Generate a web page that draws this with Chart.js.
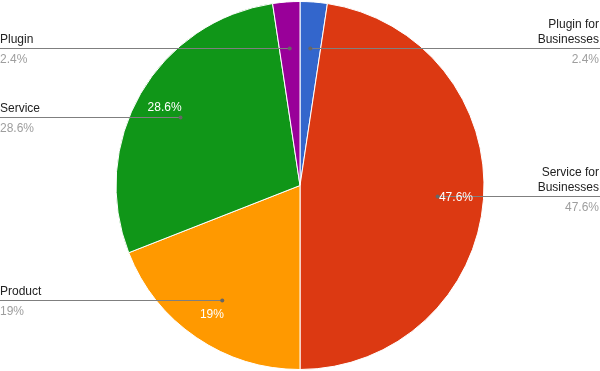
<!DOCTYPE html>
<html>
<head>
<meta charset="utf-8">
<script src="https://cdn.jsdelivr.net/npm/chart.js@4.4.0/dist/chart.umd.min.js"></script>
<style>
  html, body { margin: 0; padding: 0; background: #fff; }
  #pie { display: block; }
</style>
</head>
<body>
<canvas id="pie" width="600" height="371"></canvas>
<script>
// data (clockwise from 12 o'clock)
const categories = ["Plugin for Businesses", "Service for Businesses", "Product", "Service", "Plugin"];
const counts = [1, 20, 8, 12, 1];
const sliceColors = ["#3366cc", "#dc3912", "#ff9900", "#109618", "#990099"];

const total = counts.reduce(function (a, b) { return a + b; }, 0);

function pctText(v) {
  var s = (v / total * 100).toFixed(1);
  if (s.slice(-2) == ".0") s = s.slice(0, -2);
  return s + "%";
}

// crude word wrap for the side labels
function wrapLabel(ctx, text, maxW) {
  var words = text.split(" ");
  var lines = [];
  var cur = "";
  words.forEach(function (w) {
    var test = cur ? cur + " " + w : w;
    if (cur && ctx.measureText(test).width > maxW) {
      lines.push(cur);
      cur = w;
    } else {
      cur = test;
    }
  });
  if (cur) lines.push(cur);
  return lines;
}

const pieLabels = {
  id: "pieLabels",
  afterDatasetsDraw: function (chart) {
    var ctx = chart.ctx;
    var meta = chart.getDatasetMeta(0);
    ctx.save();
    ctx.font = "12px Arial, 'Liberation Sans', sans-serif";

    meta.data.forEach(function (arc, i) {
      var p = arc.getProps(["x", "y", "startAngle", "endAngle", "outerRadius"], true);
      var mid = (p.startAngle + p.endAngle) / 2;
      var cos = Math.cos(mid), sin = Math.sin(mid);
      var right = cos >= 0;

      // leader line + dot
      var dx = p.x + cos * p.outerRadius * 0.75;
      var dy = Math.round(p.y + sin * p.outerRadius * 0.75) + 0.5;
      ctx.strokeStyle = "#7f7f7f";
      ctx.lineWidth = 1;
      ctx.beginPath();
      ctx.moveTo(dx, dy);
      ctx.lineTo(right ? chart.width : 0, dy);
      ctx.stroke();
      ctx.fillStyle = "#666666";
      ctx.beginPath();
      ctx.arc(dx, dy, 2, 0, Math.PI * 2);
      ctx.fill();

      // side label
      var tx = right ? chart.width - 1 : 0;
      ctx.textAlign = right ? "right" : "left";
      ctx.textBaseline = "alphabetic";
      var lines = wrapLabel(ctx, categories[i], 100);
      ctx.fillStyle = "#222222";
      for (var j = 0; j < lines.length; j++) {
        ctx.fillText(lines[j], tx, dy - 6 - (lines.length - 1 - j) * 15);
      }
      ctx.fillStyle = "#9e9e9e";
      ctx.fillText(pctText(counts[i]), tx, dy + 14);
    });

    // percentages inside the big slices
    meta.data.forEach(function (arc, i) {
      if (counts[i] / total < 0.05) return;
      var p = arc.getProps(["x", "y", "startAngle", "endAngle", "outerRadius"], true);
      var mid = (p.startAngle + p.endAngle) / 2;
      ctx.fillStyle = "#ffffff";
      ctx.textAlign = "center";
      ctx.textBaseline = "middle";
      ctx.fillText(pctText(counts[i]), p.x + Math.cos(mid) * p.outerRadius * 0.85, p.y + Math.sin(mid) * p.outerRadius * 0.85);
    });
    ctx.restore();
  }
};

new Chart(document.getElementById("pie"), {
  type: "pie",
  data: {
    labels: categories,
    datasets: [{
      data: counts,
      backgroundColor: sliceColors,
      borderColor: "#ffffff",
      borderWidth: 1
    }]
  },
  options: {
    responsive: false,
    animation: false,
    layout: { padding: { top: 1, bottom: 1 } },
    plugins: {
      legend: { display: false },
      tooltip: { enabled: false }
    }
  },
  plugins: [pieLabels]
});
</script>
</body>
</html>
